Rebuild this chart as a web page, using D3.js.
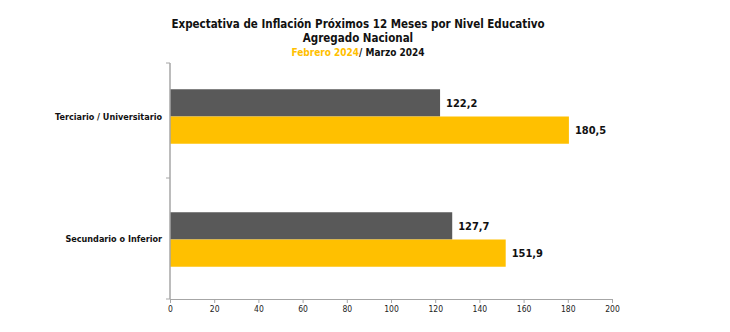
<!DOCTYPE html>
<html><head><meta charset="utf-8">
<script src="https://cdn.jsdelivr.net/npm/d3@7"></script>
<style>body{margin:0;background:#fff}svg{display:block}text{font-family:"DejaVu Sans Condensed","DejaVu Sans",Verdana,sans-serif}</style>
</head><body>
<svg id="c" width="730" height="332"></svg>
<script>
const categories = ["Terciario / Universitario", "Secundario o Inferior"];
const seriesNames = ["Marzo 2024", "Febrero 2024"];
const marzo = [122.2, 127.7];
const febrero = [180.5, 151.9];
const xTicks = [0, 20, 40, 60, 80, 100, 120, 140, 160, 180, 200];
const colors = ["#595959", "#FFC000"];

(function () {
const svg = d3.select("#c");
const mL = 170, mR = 612, mT = 63, mB = 299;
const x = d3.scaleLinear().domain([0, 200]).range([mL, mR]);
const y = d3.scaleBand().domain(categories).range([59, 297]).paddingInner(0.557).paddingOuter(0.246);
const ys = d3.scaleBand().domain(seriesNames).range([0, y.bandwidth()]);

// title
const t = svg.append("g").attr("font-weight", "bold").attr("text-anchor", "middle");
t.append("text").attr("x", 358).attr("y", 28).attr("font-size", 11.5).attr("fill", "#111").text("Expectativa de Inflación Próximos 12 Meses por Nivel Educativo");
t.append("text").attr("x", 358).attr("y", 42).attr("font-size", 11.5).attr("fill", "#111").text("Agregado Nacional");
const t3 = t.append("text").attr("x", 358).attr("y", 56).attr("font-size", 10).attr("fill", "#111");
t3.append("tspan").attr("fill", "#FFC000").text("Febrero 2024");
t3.append("tspan").attr("fill", "#111").text("/ Marzo 2024");

// bars
const data = [];
categories.forEach((c, i) => {
  data.push({c, s: seriesNames[0], v: marzo[i], col: colors[0]});
  data.push({c, s: seriesNames[1], v: febrero[i], col: colors[1]});
});
svg.append("g").selectAll("rect").data(data).join("rect")
  .attr("x", x(0)).attr("y", d => y(d.c) + ys(d.s))
  .attr("width", d => x(d.v) - x(0)).attr("height", ys.bandwidth())
  .attr("fill", d => d.col);
svg.append("g").selectAll("text").data(data).join("text")
  .attr("x", d => x(d.v) + 6).attr("y", d => y(d.c) + ys(d.s) + ys.bandwidth() / 2 + 4)
  .attr("font-size", 11).attr("font-weight", "bold").attr("fill", "#111")
  .text(d => d3.format(".1f")(d.v).replace(".", ","));

// x axis
const xa = svg.append("g").attr("transform", `translate(0,${mB})`)
  .call(d3.axisBottom(x).tickValues(xTicks).tickSize(4).tickPadding(3));
xa.select(".domain").attr("stroke", "#a6a6a6");
xa.selectAll(".tick line").attr("stroke", "#a6a6a6");
xa.selectAll(".tick text").attr("font-size", 8.5).attr("fill", "#222").attr("font-family", "'DejaVu Sans',sans-serif");

// y axis
const yg = svg.append("g");
yg.append("line").attr("x1", mL).attr("x2", mL).attr("y1", mT).attr("y2", mB).attr("stroke", "#a6a6a6").attr("stroke-width", 1.5);
[mT, 178, mB].forEach(v => {
  yg.append("line").attr("x1", mL - 4).attr("x2", mL).attr("y1", v).attr("y2", v).attr("stroke", "#a6a6a6");
});
yg.selectAll("text.cat").data(categories).join("text").attr("class", "cat")
  .attr("x", mL - 8).attr("y", d => y(d) + ys.bandwidth() + 3)
  .attr("text-anchor", "end").attr("font-size", 9).attr("font-weight", "bold").attr("fill", "#111")
  .text(d => d);
})();
</script>
</body></html>
